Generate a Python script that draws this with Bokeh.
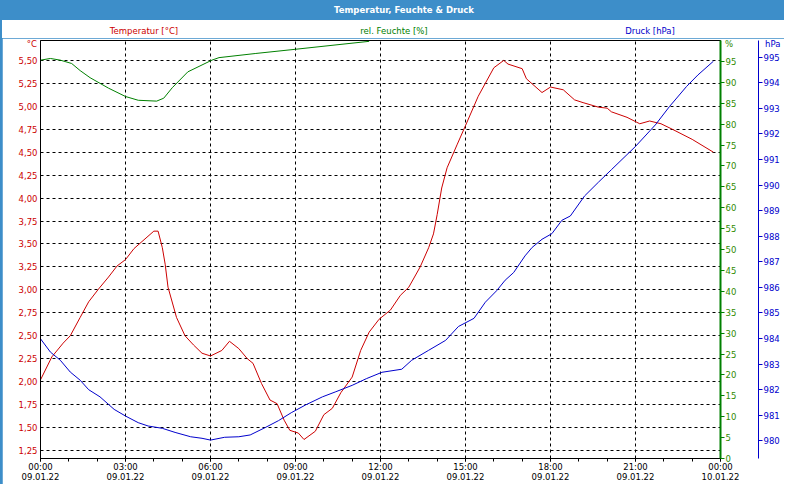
import pandas as pd
from bokeh.plotting import figure
from bokeh.models import Range1d, LinearAxis, FixedTicker, DatetimeTickFormatter, Div
from bokeh.layouts import column
from bokeh.embed import file_html
from bokeh.resources import INLINE

# ---------------- data ----------------
start = pd.Timestamp("2022-01-09 00:00")
end = pd.Timestamp("2022-01-10 00:00")

temp_hours = [0.0, 0.4, 0.8, 1.05, 1.4, 1.7, 2.05, 2.4, 2.7, 3.0, 3.3, 4.0, 4.15, 4.3, 4.4,
              4.5, 4.8, 5.1, 5.4, 5.7, 6.0, 6.4, 6.67, 7.0, 7.3, 7.5, 7.8, 8.1, 8.35, 8.6,
              8.8, 9.1, 9.3, 9.7, 10.0, 10.3, 10.6, 11.0, 11.3, 11.6, 11.95, 12.35, 12.7,
              13.0, 13.4, 13.7, 13.87, 14.0, 14.16, 14.35, 14.7, 15.0, 15.45, 16.0, 16.35,
              16.5, 17.0, 17.15, 17.7, 18.0, 18.45, 18.85, 19.15, 19.7, 20.0, 20.15, 20.7,
              21.15, 21.5, 21.9, 22.3, 23.0, 23.75]
temp_values = [2.02, 2.27, 2.42, 2.50, 2.70, 2.87, 3.01, 3.14, 3.26, 3.33, 3.45, 3.64, 3.64,
               3.46, 3.28, 3.03, 2.70, 2.50, 2.40, 2.31, 2.28, 2.34, 2.44, 2.36, 2.25, 2.20,
               1.98, 1.80, 1.76, 1.58, 1.47, 1.44, 1.37, 1.46, 1.64, 1.71, 1.88, 2.05, 2.34,
               2.54, 2.68, 2.78, 2.94, 3.03, 3.25, 3.46, 3.61, 3.82, 4.11, 4.33, 4.58, 4.79,
               5.11, 5.42, 5.50, 5.46, 5.41, 5.30, 5.15, 5.21, 5.18, 5.07, 5.04, 4.99, 4.98,
               4.94, 4.88, 4.81, 4.84, 4.81, 4.75, 4.64, 4.50]

hum_hours = [0.0, 0.35, 0.7, 1.1, 1.4, 1.75, 2.4, 3.0, 3.45, 4.1, 4.35, 4.65, 5.2, 6.05,
             6.3, 7.6, 9.0, 10.5, 11.6]
hum_values = [95.3, 95.7, 95.3, 94.5, 92.8, 91.1, 88.6, 86.6, 85.7, 85.5, 86.2, 88.7, 92.5,
              95.3, 95.9, 96.9, 97.9, 99.0, 99.8]

press_hours = [0.0, 0.35, 0.7, 1.05, 1.4, 1.7, 2.1, 2.6, 3.0, 3.45, 3.8, 4.3, 4.75, 5.3,
               5.7, 6.0, 6.5, 7.0, 7.4, 7.95, 8.4, 8.85, 9.35, 9.95, 10.4, 11.0, 11.5,
               12.05, 12.75, 13.1, 13.7, 14.3, 14.75, 15.3, 15.7, 16.1, 16.4, 16.7, 17.1,
               17.35, 17.7, 18.05, 18.4, 18.7, 19.2, 19.7, 20.15, 21.0, 21.7, 22.2, 22.8,
               23.2, 23.75]
press_values = [983.99, 983.47, 983.15, 982.69, 982.37, 982.00, 981.72, 981.23, 980.97,
                980.71, 980.58, 980.49, 980.33, 980.16, 980.10, 980.03, 980.14, 980.16,
                980.23, 980.53, 980.79, 981.10, 981.40, 981.72, 981.91, 982.17, 982.43,
                982.68, 982.80, 983.15, 983.54, 983.93, 984.47, 984.79, 985.42, 985.87,
                986.28, 986.58, 987.23, 987.56, 987.88, 988.10, 988.62, 988.79, 989.57,
                990.12, 990.60, 991.51, 992.35, 993.07, 993.85, 994.30, 994.84]

temp_ticks = [1.25, 1.50, 1.75, 2.00, 2.25, 2.50, 2.75, 3.00, 3.25, 3.50, 3.75, 4.00,
              4.25, 4.50, 4.75, 5.00, 5.25, 5.50]
hum_ticks = [0, 5, 10, 15, 20, 25, 30, 35, 40, 45, 50, 55, 60, 65, 70, 75, 80, 85, 90, 95]
press_ticks = [980, 981, 982, 983, 984, 985, 986, 987, 988, 989, 990, 991, 992, 993, 994, 995]
x_major_hours = [0, 3, 6, 9, 12, 15, 18, 21, 24]
x_minor_hours = list(range(0, 25))

title_text = "Temperatur, Feuchte &amp; Druck"
series_names = ["Temperatur [°C]", "rel. Feuchte [%]", "Druck [hPa]"]
units = ["°C", "%", "hPa"]

# ---------------- style ----------------
RED = "#cc0000"
GREEN = "#008000"
GREEN_TXT = "#2f8a00"
BLUE = "#0000cc"
FRAME_BLUE = "#3d8ec9"
FONT = "DejaVu Sans"
FS = "8.5px"


def to_dt(hours):
    return [start + pd.Timedelta(hours=h) for h in hours]


def to_ms(hours):
    return [(start + pd.Timedelta(hours=h)).value / 1e6 for h in hours]


p = figure(width=782, height=446, x_axis_type="datetime",
           x_range=Range1d(start, end), y_range=Range1d(1.163, 5.717),
           output_backend="svg", toolbar_location=None, margin=(0, 0, 0, 2))
p.min_border_left = 38
p.min_border_right = 64
p.min_border_top = 2
p.min_border_bottom = 24
p.background_fill_color = "white"
p.border_fill_color = "white"
p.outline_line_color = "black"
p.outline_line_width = 1

p.extra_y_ranges = {"hum": Range1d(0, 100), "press": Range1d(979.31, 995.65)}

# x axis
xa = p.xaxis[0]
xa.ticker = FixedTicker(ticks=to_ms(x_major_hours), minor_ticks=to_ms(x_minor_hours))
fmt = "%H:%M\n%d.%m.%y"
xa.formatter = DatetimeTickFormatter(microseconds=fmt, milliseconds=fmt, seconds=fmt,
                                     minsec=fmt, minutes=fmt, hourmin=fmt, hours=fmt,
                                     days=fmt, months=fmt, years=fmt)
xa.axis_line_color = "black"
xa.major_tick_out = 3
xa.major_tick_in = 0
xa.minor_tick_out = 3
xa.minor_tick_in = 0
xa.major_tick_line_color = "black"
xa.minor_tick_line_color = "black"
xa.major_label_text_font = FONT
xa.major_label_text_font_size = FS
xa.major_label_text_color = "black"
xa.major_label_text_line_height = 1.0
xa.major_label_standoff = 0

# left axis (temperature)
ya = p.yaxis[0]
ya.ticker = FixedTicker(ticks=temp_ticks)
ya.major_label_overrides = {t: f"{t:.2f}".replace(".", ",") for t in temp_ticks}
ya.axis_line_color = "black"
ya.major_tick_out = 0
ya.major_tick_in = 0
ya.minor_tick_line_color = None
ya.major_label_text_font = FONT
ya.major_label_text_font_size = FS
ya.major_label_text_color = RED
ya.major_label_standoff = 3

# grid
for g in (p.xgrid[0], p.ygrid[0]):
    g.grid_line_color = "black"
    g.grid_line_dash = "3 3"
    g.grid_line_width = 1

# right axis: humidity
ha = LinearAxis(y_range_name="hum", ticker=FixedTicker(ticks=hum_ticks))
ha.axis_line_color = GREEN
ha.axis_line_width = 2
ha.major_tick_out = 4
ha.major_tick_in = 0
ha.major_tick_line_color = GREEN
ha.minor_tick_line_color = None
ha.major_label_text_font = FONT
ha.major_label_text_font_size = FS
ha.major_label_text_color = GREEN_TXT
ha.major_label_standoff = 1
ha.axis_label = " "
ha.axis_label_text_font_size = FS
ha.axis_label_standoff = 6
p.add_layout(ha, "right")

# right axis: pressure
pa = LinearAxis(y_range_name="press", ticker=FixedTicker(ticks=press_ticks))
pa.axis_line_color = BLUE
pa.axis_line_width = 1
pa.major_tick_out = 4
pa.major_tick_in = 0
pa.major_tick_line_color = BLUE
pa.minor_tick_line_color = None
pa.major_label_text_font = FONT
pa.major_label_text_font_size = FS
pa.major_label_text_color = BLUE
pa.major_label_standoff = 1
p.add_layout(pa, "right")

# series
p.line(to_dt(hum_hours), hum_values, y_range_name="hum", line_color=GREEN, line_width=1)
p.line(to_dt(temp_hours), temp_values, line_color=RED, line_width=1)
p.line(to_dt(press_hours), press_values, y_range_name="press", line_color=BLUE, line_width=1)

# header: series names and unit labels (html text, positions in px)
name_pos = [142, 392, 648]          # centres
unit_pos = [("right", 747), ("left", 723), ("left", 763)]
spans = []
for name, col, cx in zip(series_names, [RED, GREEN, BLUE], name_pos):
    spans.append(f'<span style="position:absolute;left:{cx}px;top:6px;transform:translateX(-50%);'
                 f'color:{col};white-space:nowrap;">{name}</span>')
for u, col, (side, off) in zip(units, [RED, GREEN_TXT, BLUE], unit_pos):
    spans.append(f'<span style="position:absolute;{side}:{off}px;top:19px;z-index:10;'
                 f'color:{col};white-space:nowrap;">{u}</span>')
header_html = ('<div style="position:relative;width:782px;height:18px;line-height:10px;'
               f'overflow:visible;font-family:{FONT};font-size:{FS};">' + "".join(spans) + '</div>')
header = Div(text=header_html, width=782, height=18, margin=(0, 0, 0, 2),
             styles={"background-color": "white", "overflow": "visible", "z-index": "10"})

title = Div(text=title_text, width=784, height=20, margin=(0, 0, 0, 0),
            styles={"color": "white", "font-family": FONT, "font-weight": "bold",
                    "font-size": FS, "text-align": "center", "line-height": "20px",
                    "text-indent": "24px", "background-color": FRAME_BLUE})

layout = column(title, header, p, styles={"background-color": FRAME_BLUE},
                margin=(0, 0, 0, 0), spacing=0)

open("out.html", "w").write(file_html(layout, INLINE))
